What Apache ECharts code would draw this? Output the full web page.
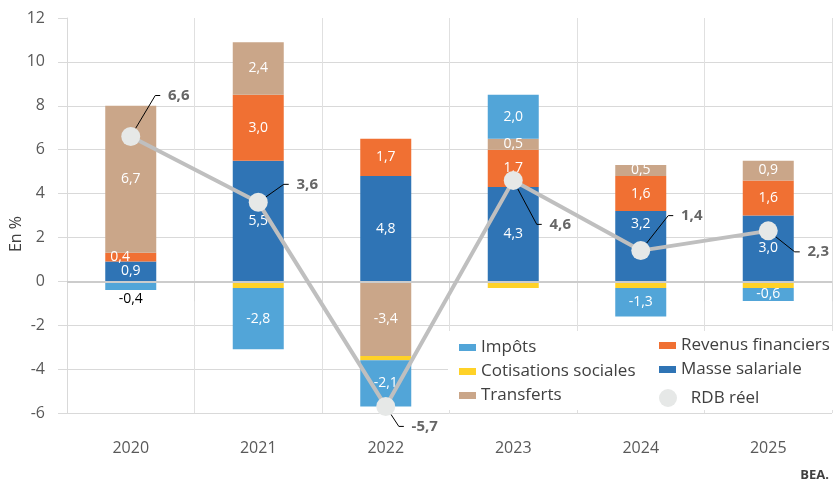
<!DOCTYPE html>
<html><head><meta charset="utf-8">
<script src="https://cdn.jsdelivr.net/npm/echarts@6/dist/echarts.min.js"></script>
<style>html,body{margin:0;padding:0;background:#fff}#c{width:835px;height:484px}</style>
</head><body><div id="c"></div>
<script>
const categories = ['2020', '2021', '2022', '2023', '2024', '2025'];
const masseSalariale = [0.9, 5.5, 4.8, 4.3, 3.2, 3.0];
const revenusFinanciers = [0.4, 3.0, 1.7, 1.7, 1.6, 1.6];
const transferts = [6.7, 2.4, -3.4, 0.5, 0.5, 0.9];
const cotisationsSociales = [0, -0.3, -0.2, -0.3, -0.3, -0.3];
const impots = [-0.4, -2.8, -2.1, 2.0, -1.3, -0.6];
const rdbReel = [6.6, 3.6, -5.7, 4.6, 1.4, 2.3];
const yMin = -6, yMax = 12, yStep = 2;

// label offsets for RDB labels (styling)
const rdbLabelOffsets = [[48, -41], [49, -18], [39, 20], [47, 44], [51, -35], [50, 21]];

const FONT = "'Open Sans', sans-serif";
const fmt = p => {
  const v = typeof p.value === 'object' ? p.value.value : p.value;
  return Number(v).toFixed(1).replace('.', ',');
};

function barSeries(name, data, color, overrides, showLabel) {
  return {
    name, type: 'bar', stack: 'total', barWidth: 51,
    itemStyle: { color },
    label: { show: showLabel !== false, color: '#fff', fontSize: 14, fontFamily: FONT, formatter: fmt },
    emphasis: { disabled: true },
    data: data.map((v, i) => {
      const item = { value: v };
      if (overrides && overrides[i]) item.label = overrides[i];
      return item;
    })
  };
}

const chart = echarts.init(document.getElementById('c'));
const legendText = { color: '#404040', fontSize: 17, fontFamily: FONT };
chart.setOption({
  animation: false,
  backgroundColor: '#fff',
  grid: { left: 67, right: 3, top: 18, bottom: 71, containLabel: false },
  xAxis: {
    type: 'category', data: categories,
    axisLine: { show: true, lineStyle: { color: '#d9d9d9' } },
    axisTick: { show: true, length: 20, lineStyle: { color: '#d9d9d9' } },
    axisLabel: { color: '#595959', fontSize: 16, fontFamily: FONT, margin: 27 },
    splitLine: { show: true, lineStyle: { color: '#e0e0e0' } }
  },
  yAxis: {
    type: 'value', min: yMin, max: yMax, interval: yStep,
    axisLine: { show: true, lineStyle: { color: '#d9d9d9' } },
    axisTick: { show: true, length: 9, lineStyle: { color: '#d9d9d9' } },
    axisLabel: { color: '#595959', fontSize: 16, fontFamily: FONT, margin: 22 },
    splitLine: { show: true, showMaxLine: false, lineStyle: { color: '#d9d9d9' } }
  },
  legend: [
    { data: ['Impôts', 'Cotisations sociales', 'Transferts'], orient: 'vertical', left: 459, top: 339,
      icon: 'rect', itemWidth: 17, itemHeight: 7, itemGap: 7, padding: 0, textStyle: legendText },
    { data: ['Revenus financiers', 'Masse salariale'], orient: 'vertical', left: 659, top: 337,
      icon: 'rect', itemWidth: 17, itemHeight: 7, itemGap: 7, padding: 0, textStyle: legendText },
    { data: [{ name: 'RDB réel', icon: 'circle', itemStyle: { color: '#e6e8e7' } }], left: 659, top: 389,
      itemWidth: 18, itemHeight: 18, padding: 0, formatter: '  {name}', textStyle: legendText }
  ],
  graphic: [
    { type: 'rect', left: 448, top: 331, shape: { width: 387, height: 79 }, style: { fill: '#fff' }, z: 1, silent: true },
    { type: 'text', x: 16, y: 234, rotation: Math.PI / 2,
      style: { text: 'En %', fill: '#404040', font: "16px 'Open Sans'", align: 'center', verticalAlign: 'middle' } },
    { type: 'text', right: 6, bottom: 2,
      style: { text: 'BEA.', fill: '#404040', font: "bold 13px 'Open Sans'" } }
  ],
  series: [
    barSeries('Masse salariale', masseSalariale, '#2f74b5', [null, null, null, null, { position: 'insideTop', distance: 6 }]),
    barSeries('Revenus financiers', revenusFinanciers, '#f07033', [{ position: 'insideLeft' }]),
    barSeries('Transferts', transferts, '#caa689'),
    barSeries('Cotisations sociales', cotisationsSociales, '#ffd228', null, false),
    Object.assign(barSeries('Impôts', impots, '#52a5d8', [{ position: 'bottom', color: '#000', distance: 2 }]), {
      markLine: { silent: true, symbol: 'none', label: { show: false },
        lineStyle: { color: '#cccccc', width: 2, type: 'solid' }, data: [{ yAxis: 0 }] }
    }),
    {
      name: 'RDB réel', type: 'line', data: rdbReel, z: 5,
      symbol: 'circle', symbolSize: 19,
      lineStyle: { color: '#bfbfbf', width: 4 },
      itemStyle: { color: '#e6e8e7' },
      emphasis: { disabled: true },
      label: { show: true, position: 'inside', formatter: p => '  ' + fmt(p) + '  ', fontWeight: 'bold', fontSize: 15,
        color: '#666666', fontFamily: FONT },
      labelLine: { show: true, length2: 5, lineStyle: { color: '#000', width: 1 } },
      labelLayout: p => ({ dx: rdbLabelOffsets[p.dataIndex][0], dy: rdbLabelOffsets[p.dataIndex][1] })
    }
  ]
});
</script></body></html>
